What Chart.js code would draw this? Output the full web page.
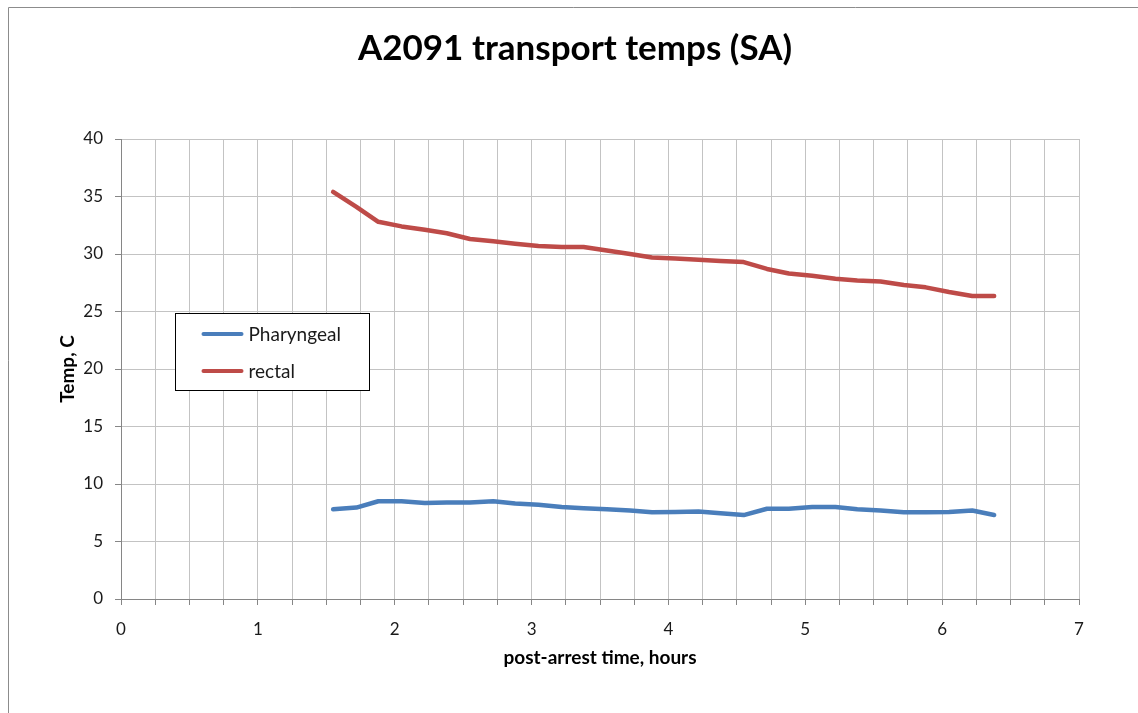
<!DOCTYPE html>
<html>
<head>
<meta charset="utf-8">
<script src="https://cdn.jsdelivr.net/npm/chart.js@4.4.1/dist/chart.umd.min.js"></script>
<style>
  html, body { margin: 0; padding: 0; background: #fff; }
  #wrap { position: relative; width: 1138px; height: 713px; }
  canvas { display: block; }
</style>
</head>
<body>
<div id="wrap"><canvas id="c" width="1138" height="713"></canvas></div>
<script>
// ---- data ----
const hours = [1.55, 1.72, 1.88, 2.05, 2.22, 2.38, 2.55, 2.72, 2.88, 3.05,
               3.22, 3.38, 3.55, 3.72, 3.88, 4.05, 4.22, 4.38, 4.55, 4.72,
               4.88, 5.05, 5.22, 5.38, 5.55, 5.72, 5.88, 6.05, 6.22, 6.38];
const pharyngeal = [7.8, 7.95, 8.5, 8.5, 8.35, 8.4, 8.4, 8.5, 8.3, 8.2,
                    8.0, 7.9, 7.8, 7.7, 7.55, 7.57, 7.6, 7.45, 7.3, 7.85,
                    7.85, 8.0, 8.0, 7.8, 7.7, 7.55, 7.55, 7.57, 7.7, 7.3];
const rectal = [35.4, 34.1, 32.8, 32.4, 32.1, 31.8, 31.3, 31.1, 30.9, 30.7,
                30.6, 30.6, 30.3, 30.0, 29.7, 29.6, 29.5, 29.4, 29.3, 28.7,
                28.3, 28.1, 27.85, 27.7, 27.6, 27.3, 27.1, 26.7, 26.35, 26.35];
const seriesNames = ['Pharyngeal', 'rectal'];
const yTicks = [0, 5, 10, 15, 20, 25, 30, 35, 40];
const xTickLabels = [0, 1, 2, 3, 4, 5, 6, 7];
const chartTitle = 'A2091 transport temps (SA)';

const FONT = 'Lato, "Open Sans", "DejaVu Sans", sans-serif';
const BLUE = '#4a7ebb';
const RED = '#be4b48';

function pts(xs, ys) { return xs.map((x, i) => ({ x: x, y: ys[i] })); }

const frame = {
  id: 'frame',
  beforeDraw(chart) {
    const ctx = chart.ctx;
    ctx.save();
    ctx.fillStyle = '#fff';
    ctx.fillRect(0, 0, chart.width, chart.height);
    ctx.strokeStyle = '#8c8c8c';
    ctx.lineWidth = 1;
    ctx.beginPath();
    ctx.moveTo(8.5, chart.height);
    ctx.lineTo(8.5, 7.5);
    ctx.lineTo(chart.width, 7.5);
    ctx.stroke();
    ctx.restore();
  }
};

const titleDraw = {
  id: 'titleDraw',
  afterDraw(chart) {
    const ctx = chart.ctx;
    ctx.save();
    ctx.fillStyle = '#000';
    ctx.font = 'bold 35px ' + FONT;
    ctx.textAlign = 'center';
    ctx.textBaseline = 'middle';
    ctx.fillText(chartTitle, 575, 49);
    ctx.restore();
  }
};

const boxLegend = {
  id: 'boxLegend',
  afterDraw(chart) {
    const ctx = chart.ctx;
    const a = chart.chartArea;
    const x0 = a.left + 54.5, y0 = a.top + 174.5, w = 194, h = 77;
    ctx.save();
    ctx.fillStyle = '#fff';
    ctx.fillRect(x0, y0, w, h);
    ctx.strokeStyle = '#000';
    ctx.lineWidth = 1;
    ctx.strokeRect(x0, y0, w, h);
    chart.data.datasets.forEach((ds, i) => {
      const cy = y0 + 20.5 + i * 37;
      ctx.strokeStyle = ds.borderColor;
      ctx.lineWidth = 4;
      ctx.lineCap = 'round';
      ctx.beginPath();
      ctx.moveTo(x0 + 28, cy);
      ctx.lineTo(x0 + 66, cy);
      ctx.stroke();
      ctx.fillStyle = '#1a1a1a';
      ctx.font = '19px ' + FONT;
      ctx.textBaseline = 'middle';
      ctx.textAlign = 'left';
      ctx.fillText(ds.label, x0 + 73, cy + 1);
    });
    ctx.restore();
  }
};

new Chart(document.getElementById('c'), {
  type: 'line',
  data: {
    datasets: [
      { label: seriesNames[0], data: pts(hours, pharyngeal), borderColor: BLUE, backgroundColor: BLUE,
        borderWidth: 4.5, pointRadius: 0, tension: 0, borderJoinStyle: 'round', borderCapStyle: 'round' },
      { label: seriesNames[1], data: pts(hours, rectal), borderColor: RED, backgroundColor: RED,
        borderWidth: 4.5, pointRadius: 0, tension: 0, borderJoinStyle: 'round', borderCapStyle: 'round' }
    ]
  },
  options: {
    responsive: false,
    animation: false,
    devicePixelRatio: 1,
    layout: { padding: { left: 56, right: 59, top: 139, bottom: 44 } },
    plugins: {
      legend: { display: false },
      tooltip: { enabled: false },
      title: { display: false }
    },
    scales: {
      x: {
        type: 'linear',
        min: 0, max: 7,
        afterFit(s) { s.height = 70; },
        afterBuildTicks(s) {
          const t = [];
          for (let i = 0; i <= 28; i++) t.push({ value: i * 0.25 });
          s.ticks = t;
        },
        ticks: {
          autoSkip: false, maxRotation: 0, padding: 14,
          color: '#1a1a1a',
          font: { family: FONT, size: 17 },
          callback: v => (xTickLabels.includes(v) ? String(v) : '')
        },
        grid: { color: '#c3c3c3', lineWidth: 1, tickLength: 6, tickColor: '#868686', drawTicks: true },
        border: { color: '#868686', width: 1 },
        title: {
          display: true, text: 'post-arrest time, hours', color: '#000',
          font: { family: FONT, size: 19, weight: 'bold', lineHeight: 1.2 },
          padding: 0
        }
      },
      y: {
        min: 0, max: 40,
        afterFit(s) { s.width = 65; },
        afterBuildTicks(s) { s.ticks = yTicks.map(v => ({ value: v })); },
        ticks: {
          padding: 12, color: '#1a1a1a',
          font: { family: FONT, size: 17 }
        },
        grid: { color: '#c3c3c3', lineWidth: 1, tickLength: 6, tickColor: '#868686', drawTicks: true },
        border: { color: '#868686', width: 1 },
        title: {
          display: true, text: 'Temp, C', color: '#000',
          font: { family: FONT, size: 19, weight: 'bold', lineHeight: 1.2 },
          padding: 0
        }
      }
    }
  },
  plugins: [frame, titleDraw, boxLegend]
});
</script>
</body>
</html>
